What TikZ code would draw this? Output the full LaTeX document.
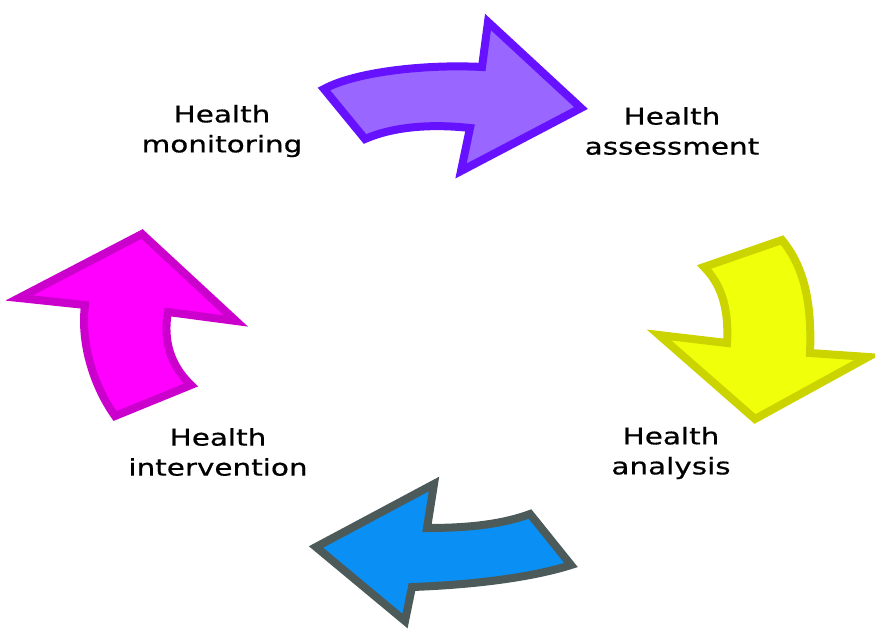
\documentclass[tikz,border=0pt]{standalone}
\usepackage{fontspec}
\newfontfamily\labelfont[FakeStretch=1.28,FakeBold=0.6]{DejaVu Sans}
\definecolor{purplefill}{HTML}{9966FF}
\definecolor{purpleline}{HTML}{6611FF}
\definecolor{yellowfill}{HTML}{F0FF0A}
\definecolor{yellowline}{HTML}{CCD400}
\definecolor{bluefill}{HTML}{0A90F5}
\definecolor{blueline}{HTML}{4D5A5A}
\definecolor{magentafill}{HTML}{FF00FF}
\definecolor{magentaline}{HTML}{CC00CC}
\begin{document}
\begin{tikzpicture}[x=1pt, y=-1pt,
    bigarrow/.style={line width=8pt, line join=miter, miter limit=4},
    steplabel/.style={align=center, font=\labelfont\fontsize{23}{30}\selectfont, inner sep=0pt}]

    \useasboundingbox (0,0) rectangle (875,636);

    % Top arrow: monitoring to assessment
    \draw[bigarrow, draw=purpleline, fill=purplefill]
        (324,89) .. controls (355,72) and (425,64) .. (482,67)
        -- (488,22) -- (581,108) -- (461,171) -- (470,128)
        .. controls (433,124) and (395,126) .. (365,139) -- cycle;

    % Right arrow: assessment to analysis
    \draw[bigarrow, draw=yellowline, fill=yellowfill]
        (704,267) -- (782,240)
        .. controls (805,268) and (812,305) .. (810,353)
        -- (868,357) -- (755,419) -- (659,335) -- (727,343)
        .. controls (729,310) and (722,285) .. cycle;

    % Bottom arrow: analysis to intervention
    \draw[bigarrow, draw=blueline, fill=bluefill]
        (530,514) -- (571,565)
        .. controls (530,578) and (470,585) .. (412,587)
        -- (405,621) -- (316,547) -- (434,484) -- (427,528)
        .. controls (465,528) and (500,525) .. cycle;

    % Left arrow: intervention to monitoring
    \draw[bigarrow, draw=magentaline, fill=magentafill]
        (115,416) -- (191,385)
        .. controls (170,365) and (163,340) .. (168,312)
        -- (236,321) -- (142,234) -- (19,298) -- (85,305)
        .. controls (80,345) and (95,388) .. cycle;

    % Labels
    \node[steplabel] (monitoring) at (222,131) {Health\\monitoring};
    \node[steplabel] (assessment) at (672,131) {Health\\assessment};
    \node[steplabel] (analysis) at (671,453) {Health\\analysis};
    \node[steplabel] (intervention) at (218,452) {Health\\intervention};

\end{tikzpicture}
\end{document}
